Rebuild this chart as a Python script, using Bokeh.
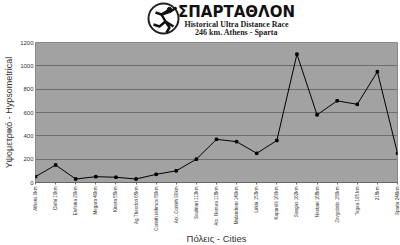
import math
from bokeh.plotting import figure
from bokeh.layouts import column
from bokeh.models import Range1d, FixedTicker
from bokeh.core.properties import value
from bokeh.embed import file_html
from bokeh.resources import INLINE

cities = ["Athens 0km", "Dafni 10km", "Elefsina 20km", "Megara 40km", "Kineta 55km",
          "Ag.Theodori 65km", "Corinth isthmos 80km", "Arx. Corinth 90km", "Soulinari 113km",
          "Arx. Nemea 118km", "Malandreni 140km", "Lirkia 153km", "Kaparelli 160km",
          "Sangas 162km", "Nestani 168km", "Zevgolatio 180km", "Tegea 195 km", "218km",
          "Sparta 246km"]
altitude = [50, 150, 30, 50, 45, 30, 70, 100, 200, 370, 350, 250, 360, 1100, 580, 700, 670, 950, 250]
y_ticks = [0, 200, 400, 600, 800, 1000, 1200]

title_main = "ΣΠΑΡΤΑΘΛΟΝ"
title_sub1 = "Historical Ultra Distance Race"
title_sub2 = "246 km. Athens - Sparta"
x_title = "Πόλεις - Cities"
y_title = "Υψομετρικό - Hypsometrical"

FRAME_L, FRAME_R = 35, 397
HEAD_H, FOOT_H = 38, 12


def blank(height):
    f = figure(width=400, height=height, x_range=Range1d(FRAME_L, FRAME_R), y_range=Range1d(height, 0),
               output_backend="svg", toolbar_location=None, min_border=0,
               min_border_left=FRAME_L, min_border_right=400 - FRAME_R)
    f.axis.visible = False
    f.grid.visible = False
    f.outline_line_color = None
    f.background_fill_color = "white"
    return f


# ---------- header (data units = pixels) ----------
h = blank(HEAD_H)
h.circle(x=[163], y=[18], radius=15, fill_color="white", line_color="#222222", line_width=2)
h.multi_line(xs=[[155, 161, 169], [161, 165, 173], [165, 159, 153], [165, 169, 166], [161, 170, 176]],
             ys=[[12, 14, 9], [14, 21, 26], [21, 26, 24], [21, 27, 32], [14, 11, 7]],
             line_color="#111111", line_width=2.5)
h.circle(x=[169], y=[9], radius=2.2, fill_color="#111111", line_color="#111111")
h.text(x=[236], y=[11], text=[title_main], text_font=value("DejaVu Sans"), text_font_size="15px",
       text_font_style="bold", text_align="center", text_baseline="middle", text_color="#111111")
h.text(x=[236], y=[23.5], text=[title_sub1], text_font=value("Liberation Serif"), text_font_size="8px",
       text_font_style="bold", text_align="center", text_baseline="middle", text_color="#222222")
h.text(x=[236], y=[31.5], text=[title_sub2], text_font=value("Liberation Serif"), text_font_size="8px",
       text_font_style="bold", text_align="center", text_baseline="middle", text_color="#222222")

# ---------- main chart ----------
xs = list(range(len(cities)))
main_h = 245 - HEAD_H - FOOT_H
p = figure(width=400, height=main_h, x_range=Range1d(0, len(cities) - 1), y_range=Range1d(0, 1200),
           output_backend="svg", toolbar_location=None,
           min_border_left=FRAME_L, min_border_right=400 - FRAME_R, min_border_top=4,
           min_border_bottom=main_h - 4 - 140)
p.background_fill_color = "#a2a2a2"
p.border_fill_color = "white"
p.outline_line_color = "#8a8a8a"

p.line(xs, altitude, line_color="black", line_width=1)
p.scatter(xs, altitude, marker="square", size=2.5, fill_color="black", line_color="black")

p.xaxis.ticker = FixedTicker(ticks=xs)
p.xaxis.major_label_overrides = {i: c for i, c in enumerate(cities)}
p.xaxis.major_label_orientation = math.pi / 2
p.xaxis.major_label_text_font = "Liberation Sans"
p.xaxis.major_label_text_font_size = "4.6px"
p.xaxis.major_label_text_color = "#333333"
p.xaxis.major_label_standoff = 2
p.xaxis.major_tick_in = 0
p.xaxis.major_tick_out = 2
p.xaxis.minor_tick_line_color = None
p.xaxis.axis_line_color = "#666666"
p.xaxis.major_tick_line_color = "#666666"

p.yaxis.ticker = FixedTicker(ticks=y_ticks)
p.yaxis.major_label_text_font = "Liberation Sans"
p.yaxis.major_label_text_font_size = "6px"
p.yaxis.major_label_text_color = "#333333"
p.yaxis.major_label_standoff = 2
p.yaxis.major_tick_in = 0
p.yaxis.major_tick_out = 0
p.yaxis.major_tick_line_color = None
p.yaxis.minor_tick_line_color = None
p.yaxis.axis_line_color = None
p.yaxis.axis_label = y_title
p.yaxis.axis_label_text_font = "Liberation Sans"
p.yaxis.axis_label_text_font_size = "9px"
p.yaxis.axis_label_text_font_style = "normal"
p.yaxis.axis_label_text_color = "#333333"
p.yaxis.axis_label_standoff = 3

p.xgrid.grid_line_color = None
p.ygrid.ticker = FixedTicker(ticks=y_ticks)
p.ygrid.grid_line_color = "#6e6e6e"
p.ygrid.grid_line_width = 1

# ---------- footer: x-axis title ----------
f = blank(FOOT_H)
f.text(x=[(FRAME_L + FRAME_R) / 2], y=[5], text=[x_title], text_font=value("Liberation Sans"),
       text_font_size="9.5px", text_align="center", text_baseline="middle", text_color="#333333")

layout = column(h, p, f, spacing=0)
open("out.html", "w").write(file_html(layout, INLINE))
